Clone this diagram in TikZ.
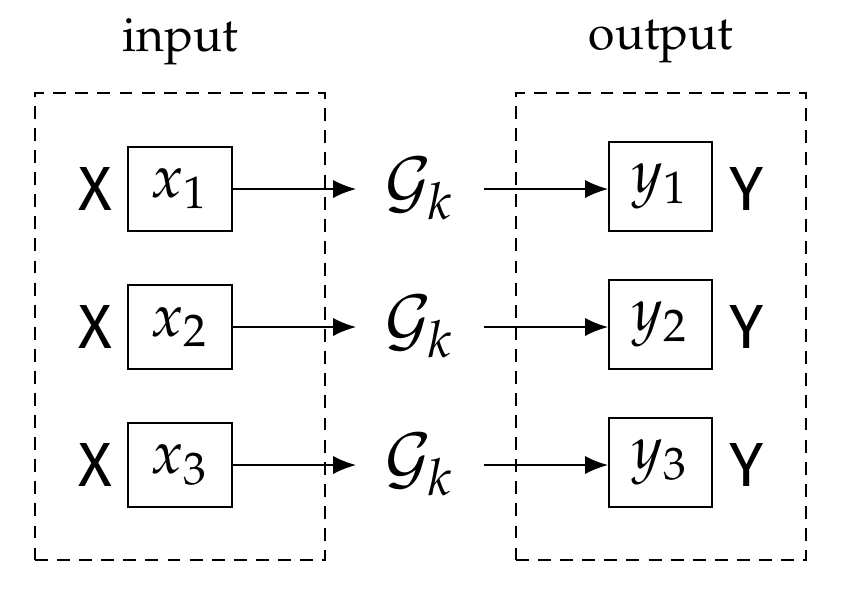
\documentclass[tikz,border=0pt]{standalone}
\usepackage{mathpazo}
\usepackage[no-math]{fontspec}
\newfontfamily\sansX{Fira Sans}
\usetikzlibrary{arrows.meta}
\newcommand{\pala}{\fontencoding{T1}\fontfamily{ppl}\selectfont}
\tikzset{
  px/.style={x=0.2083pt,y=-0.2083pt},
  grp/.style={draw,dash pattern=on 2.7pt off 1.9pt,line width=0.42pt},
  vbox/.style={draw,line width=0.42pt,minimum width=21.6pt,minimum height=17.5pt,inner sep=0pt,font=\fontsize{12.5}{15}\selectfont},
  wbox/.style={draw,line width=0.42pt,minimum width=21.4pt,minimum height=18.5pt,inner sep=0pt,font=\fontsize{12.5}{15}\selectfont},
  side/.style={inner sep=0pt,font=\sansX\fontsize{13}{15}\selectfont},
  gnode/.style={inner sep=0pt,minimum width=26.2pt,font=\fontsize{14}{16}\selectfont},
  ttl/.style={inner sep=0pt,font=\pala\fontsize{10}{12}\selectfont},
  arr/.style={-{Latex[length=4.8pt,width=3.8pt]},line width=0.42pt}
}
\begin{document}
\begin{tikzpicture}[px]
\useasboundingbox (0,0) rectangle (849,590);
\node[grp,minimum width=60.4pt,minimum height=97.3pt,inner sep=0pt] (inbox) at (180,326.5) {};
\node[grp,minimum width=60.4pt,minimum height=97.3pt,inner sep=0pt] (outbox) at (661,326.5) {};
\node[ttl] (tin) at (180,42) {input};
\node[ttl] (tout) at (661,42) {output};
\foreach \i/\yy in {1/189,2/327,3/465}{
  \node[vbox] (x\i) at (180,\yy) {$x_{\i}$};
  \node[side] (X\i) at (95,\yy) {X};
  \node[gnode] (g\i) at (420,\yy) {$\mathcal{G}_k$};
  \node[wbox] (y\i) at (660.5,\yy-2.5) {$y_{\i}$};
  \node[side] (Y\i) at (747,\yy) {Y};
  \draw[arr] (x\i.east) -- (g\i.west);
  \draw[arr] (g\i.east) -- (y\i.west |- g\i.east);
}
\end{tikzpicture}
\end{document}
